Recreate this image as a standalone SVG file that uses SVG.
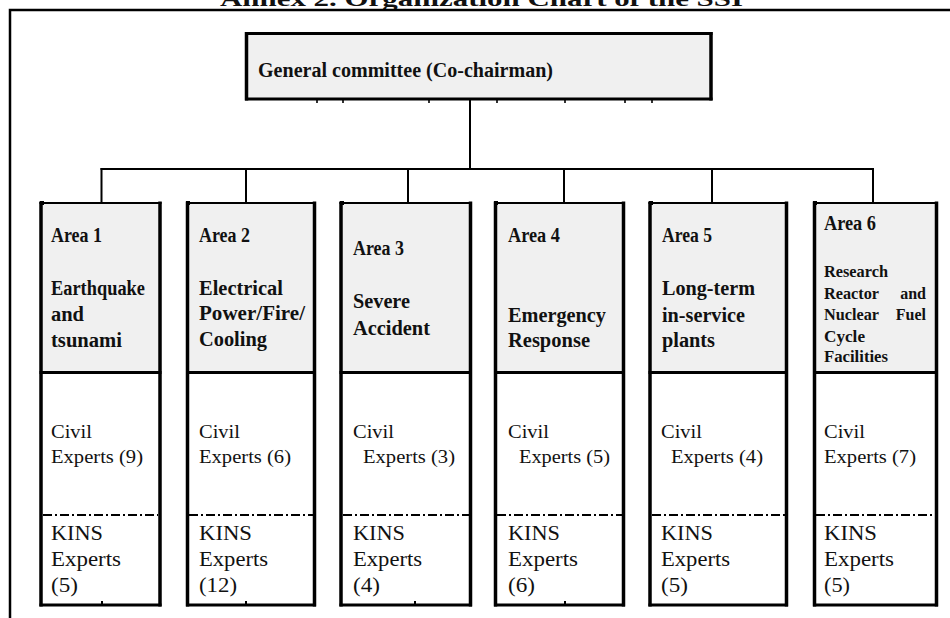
<svg xmlns="http://www.w3.org/2000/svg" width="950" height="618" viewBox="0 0 950 618">
  <style>
    .frame { fill: none; stroke: #000; stroke-width: 2.5; }
    .conn { fill: none; stroke: #000; stroke-width: 2; }
    .thin { fill: none; stroke: #000; stroke-width: 2; }
    .edge { fill: none; stroke: #000; stroke-width: 3.5; }
    .tick { fill: none; stroke: #000; stroke-width: 1.6; }
    .dashdot { fill: none; stroke: #000; stroke-width: 2; stroke-dasharray: 9 3 2 3; }
    .head { fill: #f0f0f0; }
    .body { fill: #ffffff; }
    text { font-family: "Liberation Serif", "Times New Roman", serif; fill: #111; }
    .b { font-weight: bold; }
    .area { font-weight: bold; font-size: 20px; }
    .desc { font-weight: bold; font-size: 20px; }
    .small { font-weight: bold; font-size: 16px; }
    .civil { font-size: 19px; }
    .kins { font-size: 20px; }
  </style>

  <rect x="0" y="0" width="950" height="618" fill="#fff"/>

  <!-- Heading, running off the top edge -->
  <text class="b" x="220" y="5.5" font-size="22" textLength="523" lengthAdjust="spacingAndGlyphs">Annex 2. Organization Chart of the SSI</text>

  <!-- Page frame -->
  <path class="frame" d="M10 618V10H952"/>

  <!-- Top committee -->
  <g id="general">
    <rect class="head" x="246.5" y="33.5" width="464.5" height="65.5"/>
    <path class="edge" d="M246.5 32V100.5M711 32V100.5"/>
    <path class="edge" d="M245 33.5H712.5" style="stroke-width:3"/>
    <path class="edge" d="M245 99H712.5" style="stroke-width:3"/>
    <path class="tick" d="M317 99V103M343 99V103M429 99V103M497 99V103M565 99V103M625 99V103M652 99V103"/>
    <text class="b" x="258" y="77" font-size="20" textLength="295" lengthAdjust="spacingAndGlyphs">General committee (Co-chairman)</text>
  </g>

  <!-- Connectors -->
  <g id="connectors">
    <path class="conn" d="M470 99V169M100.5 169H873.5"/>
    <path class="conn" d="M101.5 168V203M246 168V203M408 168V203M564 168V203M712 168V203M873 168V203"/>
  </g>

  <!-- Area 1 -->
  <g id="area1">
    <rect class="head" x="41" y="203" width="119" height="169.5"/>
    <rect class="body" x="41" y="372.5" width="119" height="232.5"/>
    <path class="thin" d="M39.5 203H161.5"/>
    <path class="edge" d="M41 201.5V606.5M160 201.5V606.5"/>
    <path class="edge" d="M39.5 372.5H161.5M39.5 605H161.5" style="stroke-width:3"/>
    <path class="dashdot" d="M43 515H158"/>
    <rect x="40" y="201" width="4" height="4" fill="#000"/>
    <rect x="101" y="601" width="2" height="3" fill="#000"/>
    <text class="area" x="51" y="242" textLength="51" lengthAdjust="spacingAndGlyphs">Area 1</text>
    <text class="desc" x="51" y="295" textLength="94" lengthAdjust="spacingAndGlyphs">Earthquake</text>
    <text class="desc" x="51" y="321" textLength="33" lengthAdjust="spacingAndGlyphs">and</text>
    <text class="desc" x="51" y="347" textLength="71" lengthAdjust="spacingAndGlyphs">tsunami</text>
    <text class="civil" x="51" y="438" textLength="41" lengthAdjust="spacingAndGlyphs">Civil</text>
    <text class="civil" x="51" y="463" textLength="92" lengthAdjust="spacingAndGlyphs">Experts (9)</text>
    <text class="kins" x="51" y="540" textLength="52" lengthAdjust="spacingAndGlyphs">KINS</text>
    <text class="kins" x="51" y="566" textLength="70" lengthAdjust="spacingAndGlyphs">Experts</text>
    <text class="kins" x="51" y="592" textLength="27" lengthAdjust="spacingAndGlyphs">(5)</text>
  </g>

  <!-- Area 2 -->
  <g id="area2">
    <rect class="head" x="187.5" y="203" width="127" height="169.5"/>
    <rect class="body" x="187.5" y="372.5" width="127" height="232.5"/>
    <path class="thin" d="M186 203H316"/>
    <path class="edge" d="M187.5 201.5V606.5M314.5 201.5V606.5"/>
    <path class="edge" d="M186 372.5H316M186 605H316" style="stroke-width:3"/>
    <path class="dashdot" d="M189 515H313"/>
    <rect x="186" y="201" width="4" height="4" fill="#000"/>
    <rect x="245" y="601" width="2" height="3" fill="#000"/>
    <text class="area" x="199" y="242" textLength="51" lengthAdjust="spacingAndGlyphs">Area 2</text>
    <text class="desc" x="199" y="295" textLength="84" lengthAdjust="spacingAndGlyphs">Electrical</text>
    <text class="desc" x="199" y="320" textLength="106" lengthAdjust="spacingAndGlyphs">Power/Fire/</text>
    <text class="desc" x="199" y="346" textLength="68" lengthAdjust="spacingAndGlyphs">Cooling</text>
    <text class="civil" x="199" y="438" textLength="41" lengthAdjust="spacingAndGlyphs">Civil</text>
    <text class="civil" x="199" y="463" textLength="92" lengthAdjust="spacingAndGlyphs">Experts (6)</text>
    <text class="kins" x="199" y="540" textLength="53" lengthAdjust="spacingAndGlyphs">KINS</text>
    <text class="kins" x="199" y="566" textLength="69" lengthAdjust="spacingAndGlyphs">Experts</text>
    <text class="kins" x="199" y="592" textLength="38" lengthAdjust="spacingAndGlyphs">(12)</text>
  </g>

  <!-- Area 3 -->
  <g id="area3">
    <rect class="head" x="341" y="203" width="129.5" height="169.5"/>
    <rect class="body" x="341" y="372.5" width="129.5" height="232.5"/>
    <path class="thin" d="M339.5 203H472"/>
    <path class="edge" d="M341 201.5V606.5M470.5 201.5V606.5"/>
    <path class="edge" d="M339.5 372.5H472M339.5 605H472" style="stroke-width:3"/>
    <path class="dashdot" d="M343 515H469"/>
    <rect x="340" y="201" width="4" height="4" fill="#000"/>
    <rect x="414" y="601" width="2" height="3" fill="#000"/>
    <text class="area" x="353" y="255" textLength="51" lengthAdjust="spacingAndGlyphs">Area 3</text>
    <text class="desc" x="353" y="308" textLength="57" lengthAdjust="spacingAndGlyphs">Severe</text>
    <text class="desc" x="353" y="335" textLength="77" lengthAdjust="spacingAndGlyphs">Accident</text>
    <text class="civil" x="353" y="438" textLength="41" lengthAdjust="spacingAndGlyphs">Civil</text>
    <text class="civil" x="363" y="463" textLength="92" lengthAdjust="spacingAndGlyphs">Experts (3)</text>
    <text class="kins" x="353" y="540" textLength="52" lengthAdjust="spacingAndGlyphs">KINS</text>
    <text class="kins" x="353" y="566" textLength="69" lengthAdjust="spacingAndGlyphs">Experts</text>
    <text class="kins" x="353" y="592" textLength="27" lengthAdjust="spacingAndGlyphs">(4)</text>
  </g>

  <!-- Area 4 -->
  <g id="area4">
    <rect class="head" x="495.5" y="203" width="128" height="169.5"/>
    <rect class="body" x="495.5" y="372.5" width="128" height="232.5"/>
    <path class="thin" d="M494 203H625"/>
    <path class="edge" d="M495.5 201.5V606.5M623.5 201.5V606.5"/>
    <path class="edge" d="M494 372.5H625M494 605H625" style="stroke-width:3"/>
    <path class="dashdot" d="M497 515H622"/>
    <rect x="494" y="201" width="4" height="4" fill="#000"/>
    <rect x="564" y="601" width="2" height="3" fill="#000"/>
    <text class="area" x="508" y="242" textLength="52" lengthAdjust="spacingAndGlyphs">Area 4</text>
    <text class="desc" x="508" y="322" textLength="98" lengthAdjust="spacingAndGlyphs">Emergency</text>
    <text class="desc" x="508" y="347" textLength="82" lengthAdjust="spacingAndGlyphs">Response</text>
    <text class="civil" x="508" y="438" textLength="41" lengthAdjust="spacingAndGlyphs">Civil</text>
    <text class="civil" x="519" y="463" textLength="91" lengthAdjust="spacingAndGlyphs">Experts (5)</text>
    <text class="kins" x="508" y="540" textLength="52" lengthAdjust="spacingAndGlyphs">KINS</text>
    <text class="kins" x="508" y="566" textLength="70" lengthAdjust="spacingAndGlyphs">Experts</text>
    <text class="kins" x="508" y="592" textLength="27" lengthAdjust="spacingAndGlyphs">(6)</text>
  </g>

  <!-- Area 5 -->
  <g id="area5">
    <rect class="head" x="650" y="203" width="136.5" height="169.5"/>
    <rect class="body" x="650" y="372.5" width="136.5" height="232.5"/>
    <path class="thin" d="M648.5 203H788"/>
    <path class="edge" d="M650 201.5V606.5M786.5 201.5V606.5"/>
    <path class="edge" d="M648.5 372.5H788M648.5 605H788" style="stroke-width:3"/>
    <path class="dashdot" d="M652 515H785"/>
    <rect x="649" y="201" width="4" height="4" fill="#000"/>
    <text class="area" x="662" y="242" textLength="50" lengthAdjust="spacingAndGlyphs">Area 5</text>
    <text class="desc" x="662" y="295" textLength="93" lengthAdjust="spacingAndGlyphs">Long-term</text>
    <text class="desc" x="662" y="322" textLength="83" lengthAdjust="spacingAndGlyphs">in-service</text>
    <text class="desc" x="662" y="347" textLength="53" lengthAdjust="spacingAndGlyphs">plants</text>
    <text class="civil" x="661" y="438" textLength="41" lengthAdjust="spacingAndGlyphs">Civil</text>
    <text class="civil" x="671" y="463" textLength="92" lengthAdjust="spacingAndGlyphs">Experts (4)</text>
    <text class="kins" x="661" y="540" textLength="52" lengthAdjust="spacingAndGlyphs">KINS</text>
    <text class="kins" x="661" y="566" textLength="69" lengthAdjust="spacingAndGlyphs">Experts</text>
    <text class="kins" x="661" y="592" textLength="27" lengthAdjust="spacingAndGlyphs">(5)</text>
  </g>

  <!-- Area 6 -->
  <g id="area6">
    <rect class="head" x="814.5" y="203" width="122" height="169.5"/>
    <rect class="body" x="814.5" y="372.5" width="122" height="232.5"/>
    <path class="thin" d="M813 203H938"/>
    <path class="edge" d="M814.5 201.5V606.5M936.5 201.5V606.5"/>
    <path class="edge" d="M813 372.5H938M813 605H938" style="stroke-width:3"/>
    <path class="dashdot" d="M816 515H935"/>
    <rect x="813" y="201" width="4" height="4" fill="#000"/>
    <text class="area" x="824" y="230" textLength="52" lengthAdjust="spacingAndGlyphs">Area 6</text>
    <text class="small" x="824" y="277" textLength="64" lengthAdjust="spacingAndGlyphs">Research</text>
    <text class="small" x="824" y="299" textLength="55" lengthAdjust="spacingAndGlyphs">Reactor</text>
    <text class="small" x="926" y="299" text-anchor="end">and</text>
    <text class="small" x="824" y="320" textLength="55" lengthAdjust="spacingAndGlyphs">Nuclear</text>
    <text class="small" x="926" y="320" text-anchor="end">Fuel</text>
    <text class="small" x="824" y="342" textLength="41" lengthAdjust="spacingAndGlyphs">Cycle</text>
    <text class="small" x="824" y="362" textLength="64" lengthAdjust="spacingAndGlyphs">Facilities</text>
    <text class="civil" x="824" y="438" textLength="41" lengthAdjust="spacingAndGlyphs">Civil</text>
    <text class="civil" x="824" y="463" textLength="92" lengthAdjust="spacingAndGlyphs">Experts (7)</text>
    <text class="kins" x="824" y="540" textLength="53" lengthAdjust="spacingAndGlyphs">KINS</text>
    <text class="kins" x="824" y="566" textLength="70" lengthAdjust="spacingAndGlyphs">Experts</text>
    <text class="kins" x="824" y="592" textLength="26" lengthAdjust="spacingAndGlyphs">(5)</text>
  </g>
</svg>
